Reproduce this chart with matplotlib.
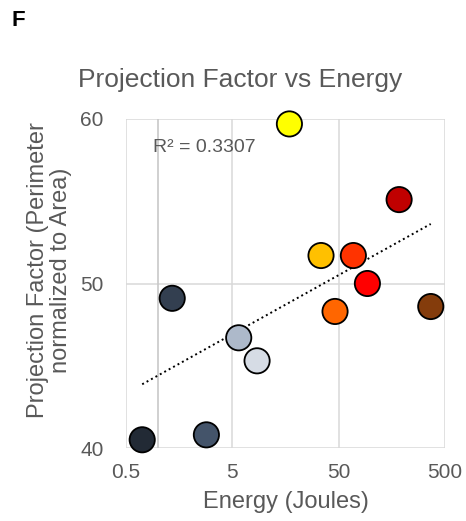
import numpy as np
import matplotlib.pyplot as plt

plt.rcParams['font.family'] = ['Liberation Sans', 'DejaVu Sans']

# energy (J) and projection factor per sample, with fill colours
energy = [0.71, 2.85, 1.36, 5.74, 8.54, 17.2, 34.1, 46.2, 68.7, 93.1, 185, 367]
proj_factor = [40.5, 40.8, 49.1, 46.7, 45.3, 59.7, 51.7, 48.3, 51.7, 50.0, 55.1, 48.6]
colors = ['#222A35', '#44546A', '#333F50', '#ADB9CA', '#D6DCE5', '#FFFF00',
          '#FFC000', '#FF6600', '#FF3300', '#FF0000', '#C00000', '#843C0C']

x_ticks = [0.5, 5, 50, 500]
x_tick_labels = ['0.5', '5', '50', '500']
y_ticks = [40, 50, 60]

txt = '#595959'
grid = '#D9D9D9'

fig = plt.figure(figsize=(4.66, 5.21), dpi=100)
ax = fig.add_axes([0.2704, 0.1401, 0.6846, 0.6315])

ax.set_xscale('log')
ax.set_xlim(0.5, 500)
ax.set_ylim(40, 60)

# log trendline over the data range
lx = np.log(energy)
a, b = np.polyfit(lx, proj_factor, 1)
xs = np.linspace(min(lx), max(lx), 100)
ax.plot(np.exp(xs), a * xs + b, color='black', linestyle=(0, (1, 1.6)), lw=1.4, zorder=2)

ax.scatter(energy, proj_factor, s=330, c=colors, edgecolors='black', linewidths=1.3, zorder=3,
           clip_on=False)

for x in x_ticks:
    ax.axvline(x, color=grid, lw=1.1, zorder=0)
for y in y_ticks:
    ax.axhline(y, color=grid, lw=1.1, zorder=0)
# value axis crosses at 1
ax.axvline(1, color='#C8C8C8', lw=1.2, zorder=1)

for s in ax.spines.values():
    s.set_visible(False)

ax.set_xticks(x_ticks)
ax.set_xticklabels(x_tick_labels)
ax.xaxis.set_minor_locator(plt.NullLocator())
ax.set_yticks(y_ticks)
ax.tick_params(length=0, labelsize=15, labelcolor=txt)
ax.tick_params(axis='x', pad=11)
ax.tick_params(axis='y', pad=16)

ax.text(0.9, 58.25, 'R² = 0.3307', fontsize=14, color=txt, ha='left', va='center')

fig.text(0.515, 0.847, 'Projection Factor vs Energy', fontsize=19, color=txt,
         ha='center', va='center')
fig.text(0.613, 0.036, 'Energy (Joules)', fontsize=17, color=txt, ha='center', va='center')
fig.text(0.106, 0.482, 'Projection Factor (Perimeter\nnormalized to Area)', fontsize=17,
         color=txt, ha='center', va='center', rotation=90, linespacing=1.1)
fig.text(0.04, 0.96, 'F', fontsize=16, fontweight='bold', color='black', ha='center', va='center')

fig.savefig('out.png', dpi=100)
